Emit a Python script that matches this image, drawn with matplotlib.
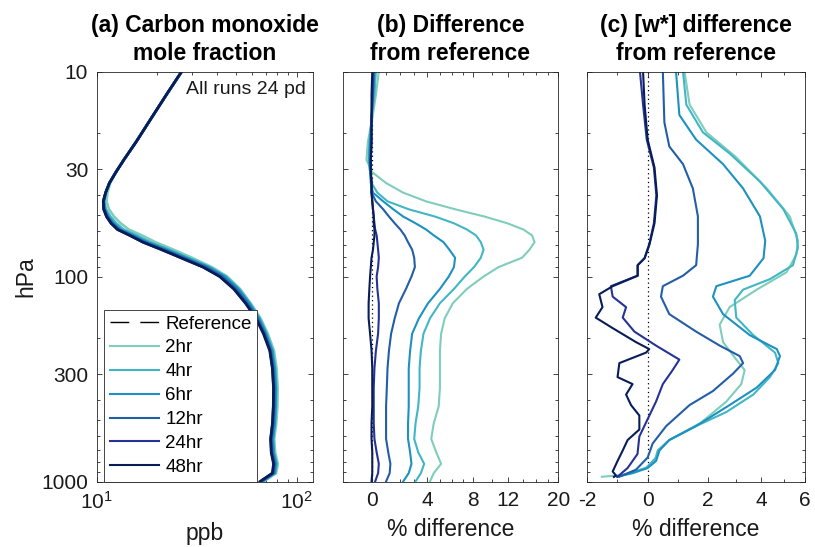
import numpy as np
import matplotlib
matplotlib.use('Agg')
import matplotlib.pyplot as plt
from matplotlib.ticker import FixedLocator, FixedFormatter, NullFormatter
from matplotlib.lines import Line2D

plt.rcParams['font.family'] = ['Liberation Sans', 'DejaVu Sans']
plt.rcParams['mathtext.fontset'] = 'custom'
plt.rcParams['mathtext.rm'] = 'Liberation Sans'
plt.rcParams['mathtext.it'] = 'Liberation Sans:italic'
plt.rcParams['mathtext.bf'] = 'Liberation Sans:bold'

# ---------------- data ----------------
RUNS = ['2hr', '4hr', '6hr', '12hr', '24hr', '48hr']
COLORS = ['#7fcdbb', '#41b6c4', '#1d91c0', '#225ea8', '#253494', '#081d58']

# shared pressure grid for panels (a) and (b), hPa
P_AB = [10, 13, 17, 22, 27, 31, 35, 39, 43, 47, 51, 55, 59, 63, 68, 74, 81, 90,
        100, 115, 135, 160, 190, 230, 280, 350, 430, 520, 620, 720, 820, 910, 1000]

# reference CO mole fraction (ppb)
CO_REF = [26.6, 22.3, 18.7, 15.8, 13.7, 12.5, 11.6, 11.1, 10.8, 10.85, 11.2, 11.8,
          12.7, 14.6, 17.0, 21.1, 26.3, 34.0, 41.2, 48.5, 55.5, 62.6, 68.2, 73.3,
          75.5, 76.5, 76.3, 75.6, 74.0, 74.5, 76.5, 75.5, 65.6]

# (b) % difference from reference
D_2HR = [0.5, 0.3, 0.05, -0.25, -0.35, 0.05, 1.0, 2.2, 3.9, 6.3, 9.2, 11.9, 14.1,
         15.4, 15.8, 15.0, 13.9, 10.8, 9.1, 7.4, 6.1, 5.4, 5.1, 5.0, 5.0, 5.0, 4.9,
         4.5, 4.3, 4.7, 5.1, 4.5, 4.2]
D_4HR = [0.3, 0.2, 0.0, -0.15, -0.2, -0.1, 0.0, 0.4, 1.1, 2.6, 4.6, 6.2, 7.4, 8.3,
         8.8, 9.1, 8.8, 8.1, 7.2, 6.2, 5.0, 4.2, 3.7, 3.5, 3.4, 3.4, 3.3, 3.1, 3.0,
         3.3, 3.75, 3.5, 3.1]
D_6HR = [0.2, 0.1, 0.0, -0.1, -0.15, -0.1, -0.05, 0.1, 0.8, 1.5, 2.2, 3.1, 3.9, 4.5,
         5.3, 5.8, 6.3, 6.2, 5.75, 5.0, 4.05, 3.35, 2.85, 2.7, 2.6, 2.6, 2.6, 2.55,
         2.55, 2.7, 2.8, 2.6, 2.2]
D_12HR = [0.15, 0.1, 0.0, -0.05, -0.1, -0.05, 0.0, 0.0, 0.3, 0.8, 1.2, 1.6, 2.0, 2.3,
          2.55, 2.85, 3.0, 3.05, 2.8, 2.4, 1.9, 1.6, 1.35, 1.2, 1.1, 1.05, 1.0, 1.0,
          1.0, 1.15, 1.3, 1.25, 1.0]
D_24HR = [0.1, 0.05, 0.0, 0.0, -0.05, -0.05, 0.0, 0.0, 0.05, 0.1, 0.15, 0.2, 0.25,
          0.35, 0.4, 0.45, 0.5, 0.45, 0.35, 0.4, 0.5, 0.5, 0.45, 0.3, 0.2, 0.15, 0.15,
          0.15, 0.2, 0.35, 0.5, 0.45, 0.25]
D_48HR = [0.05, 0.0, 0.0, 0.0, -0.05, -0.05, 0.0, 0.0, 0.05, 0.1, 0.15, 0.15, 0.2,
          0.2, 0.15, 0.1, 0.0, -0.05, -0.1, -0.15, -0.2, -0.2, -0.1, 0.0, 0.05, 0.05,
          0.05, 0.0, 0.0, 0.05, 0.05, 0.05, 0.0]

# (c) [w*] % difference from reference (each run on its own pressure levels)
PC_2HR = [10, 14.5, 19.8, 26.1, 37.2, 50.9, 66.9, 78.3, 95.3, 115.9, 141.1, 171.7,
          208.9, 254.3, 286, 334.8, 407.4, 515.7, 627.6, 706, 794.3, 859.2, 929.3, 948]
W_2HR = [1.2, 1.37, 1.94, 3.0, 4.24, 5.26, 5.65, 5.57, 5.11, 3.82, 2.77, 2.41, 2.53,
         3.02, 3.34, 3.21, 2.65, 1.76, 0.7, 0.33, 0.22, -0.05, -0.81, -1.5]
PC_4HR = [10, 14.5, 19.8, 25.1, 34.4, 46.9, 61.8, 72.4, 88.1, 103, 115.9, 130.4,
          158.7, 193.2, 235, 264.5, 309.5, 376.6, 458.3, 536.3, 627.6, 706, 763.7,
          859.2, 911.3, 947.7]
W_4HR = [1.15, 1.26, 1.82, 2.77, 3.95, 4.96, 5.57, 5.65, 5.41, 4.37, 3.28, 2.96, 3.02,
         3.68, 4.59, 4.74, 4.37, 3.68, 2.65, 1.59, 0.7, 0.33, 0.27, -0.05, -0.6, -1.0]
PC_6HR = [10, 16.3, 21.5, 28.3, 37.2, 50.9, 66.9, 81.4, 99.1, 111.5, 125.4, 152.6,
          193.2, 226, 244.5, 286, 348.2, 423.7, 536.3, 627.6, 706, 794.3, 859.2,
          911.3, 947.7]
W_6HR = [0.92, 1.03, 1.59, 2.53, 3.28, 3.95, 4.17, 4.10, 3.54, 2.29, 2.17, 2.53, 3.54,
         4.67, 4.81, 4.59, 3.82, 2.77, 1.59, 0.7, 0.38, 0.27, 0.0, -0.49, -1.0]
PC_12HR = [10, 17.7, 23.2, 28.3, 37.2, 50.9, 69.6, 88.1, 99.1, 111.5, 125.4, 152.6,
           185.7, 217.3, 244.5, 264.5, 297.5, 362, 423.7, 536.3, 652.7, 763.7, 876,
           947.7]
W_12HR = [0.49, 0.54, 0.7, 1.15, 1.48, 1.65, 1.65, 1.59, 1.15, 0.49, 0.43, 0.7, 1.59,
          2.41, 3.15, 3.28, 2.9, 2.17, 1.37, 0.6, 0.16, 0.0, -0.38, -0.92]
PC_24HR = [10, 14.5, 21.5, 29.4, 40.2, 55, 69.6, 81.4, 88.1, 99.1, 111.5, 125.4,
           141.1, 158.7, 185.7, 217.3, 254.3, 286, 334.8, 407.4, 495.8, 603.4, 734.3,
           859.2, 947.7]
W_24HR = [-0.25, -0.15, -0.03, 0.2, 0.28, 0.2, 0.05, -0.1, -0.33, -0.33, -1.2, -1.14,
          -0.7, -0.81, -0.43, 0.27, 1.03, 0.81, 0.49, 0.27, 0.0, -0.27, -0.33, -0.65,
          -0.98]
PC_48HR = [10, 14.5, 21.5, 29.4, 40.2, 55, 69.6, 81.4, 88.1, 99.1, 111.5, 122, 141.1,
           158.7, 178.6, 208.9, 226, 235, 264.5, 309.5, 334.8, 376.6, 423.7, 476.7,
           557.8, 627.6, 706, 794.3, 893.5, 935, 950]
W_48HR = [-0.15, -0.1, 0.0, 0.22, 0.3, 0.22, 0.06, -0.1, -0.32, -0.32, -1.14, -1.59,
          -1.48, -1.71, -1.14, -0.38, 0.05, -0.05, -0.92, -0.98, -0.49, -0.7, -0.54,
          -0.27, -0.27, -0.65, -0.81, -0.98, -1.14, -1.03, -1.1]

D_B = [D_2HR, D_4HR, D_6HR, D_12HR, D_24HR, D_48HR]
P_C = [PC_2HR, PC_4HR, PC_6HR, PC_12HR, PC_24HR, PC_48HR]
W_C = [W_2HR, W_4HR, W_6HR, W_12HR, W_24HR, W_48HR]

P_TICKS = [10, 30, 100, 300, 1000]
P_MINOR = [20, 40, 50, 60, 70, 80, 90, 200, 400, 500, 600, 700, 800, 900]

# ---------------- figure ----------------
W, H = 815, 547
fig = plt.figure(figsize=(W / 100, H / 100), dpi=100)
TOP, BOT = 71.5, 481.5


def ax_at(l, r):
    return fig.add_axes([l / W, 1 - BOT / H, (r - l) / W, (BOT - TOP) / H])


axa = ax_at(96.5, 313.3)
axb = ax_at(342.7, 558.3)
axc = ax_at(587.3, 805.0)

AX_COL = '#262626'
TICK_FS = 15
LAB_FS = 16.5
LW = 1.5

p = np.array(P_AB, dtype=float)
ref = np.array(CO_REF, dtype=float)

# (a)
axa.plot(ref, p, color='k', ls=(0, (13.5, 8)), lw=1.0, zorder=1)
for d, c in zip(D_B, COLORS):
    axa.plot(ref * (1 + np.array(d) / 100.0), p, color=c, lw=LW + 0.4)

# (b)
axb.plot(np.zeros_like(p), p, color='k', ls=(0, (1, 2.5)), lw=0.9, zorder=1)
for d, c in zip(D_B, COLORS):
    axb.plot(d, p, color=c, lw=LW)

# (c)
axc.plot(np.zeros_like(p), p, color='k', ls=(0, (1, 2.5)), lw=0.9, zorder=1)
for pc, w, c in zip(P_C, W_C, COLORS):
    axc.plot(w, pc, color=c, lw=LW)

# axes styling
for ax in (axa, axb, axc):
    ax.set_yscale('log')
    ax.set_ylim(1000, 10)
    ax.yaxis.set_major_locator(FixedLocator(P_TICKS))
    ax.yaxis.set_minor_locator(FixedLocator(P_MINOR))
    ax.yaxis.set_minor_formatter(NullFormatter())
    ax.tick_params(which='both', direction='in', top=True, right=True,
                   color=AX_COL, width=0.6, labelsize=TICK_FS, labelcolor='#1a1a1a')
    ax.tick_params(which='major', length=3.8)
    ax.tick_params(which='minor', length=2.3)
    ax.tick_params(axis='x', pad=7)
    ax.tick_params(axis='y', pad=6)
    for s in ax.spines.values():
        s.set_color(AX_COL)
        s.set_linewidth(0.6)

axa.yaxis.set_major_formatter(FixedFormatter([str(t) for t in P_TICKS]))
axb.yaxis.set_major_formatter(NullFormatter())
axc.yaxis.set_major_formatter(NullFormatter())

axa.set_xscale('log')
axa.set_xlim(10, 121)
axa.xaxis.set_major_locator(FixedLocator([10, 100]))
axa.xaxis.set_major_formatter(FixedFormatter([r'$10^{1}$', r'$10^{2}$']))
axa.xaxis.set_minor_locator(FixedLocator([20, 30, 40, 50, 60, 70, 80, 90]))
axa.xaxis.set_minor_formatter(NullFormatter())

axb.set_xscale('asinh', linear_width=7.5)
axb.set_xlim(-2, 20)
axb.xaxis.set_major_locator(FixedLocator([0, 4, 8, 12, 20]))
axb.xaxis.set_major_formatter(FixedFormatter(['0', '4', '8', '12', '20']))
axb.xaxis.set_minor_locator(FixedLocator([1, 2, 3, 5, 6, 7, 10, 14, 16, 18]))
axb.xaxis.set_minor_formatter(NullFormatter())

axc.set_xscale('asinh', linear_width=5)
axc.set_xlim(-2, 6)
axc.xaxis.set_major_locator(FixedLocator([-2, 0, 2, 4, 6]))
axc.xaxis.set_major_formatter(FixedFormatter(['-2', '0', '2', '4', '6']))
axc.xaxis.set_minor_locator(FixedLocator([-1, 1, 3, 5]))
axc.xaxis.set_minor_formatter(NullFormatter())

# titles and labels
TITLES = ['(a) Carbon monoxide\nmole fraction',
          '(b) Difference\nfrom reference',
          '(c) [w*] difference\nfrom reference']
for ax, t in zip((axa, axb, axc), TITLES):
    ax.set_title(t, fontsize=LAB_FS, fontweight='bold', linespacing=1.3, pad=8,
                 color='k')

axa.set_ylabel('hPa', fontsize=LAB_FS, color='#1a1a1a')
axa.yaxis.set_label_coords(-0.275, 0.5)
axa.set_xlabel('ppb', fontsize=LAB_FS, color='#1a1a1a')
axa.xaxis.label.set_verticalalignment('bottom')
axa.xaxis.set_label_coords(0.5, -0.155)
for ax in (axb, axc):
    ax.set_xlabel('% difference', fontsize=LAB_FS, color='#1a1a1a')
    ax.xaxis.set_label_coords(0.5, -0.088)

axa.text(0.966, 0.955, 'All runs 24 pd', transform=axa.transAxes, ha='right',
         va='center', fontsize=14, color='#1a1a1a')

handles = [Line2D([], [], color='k', ls=(0, (13.5, 8)), lw=1.0)]
handles += [Line2D([], [], color=c, lw=LW) for c in COLORS]
leg = axa.legend(handles, ['Reference'] + RUNS, loc='lower left',
                 bbox_to_anchor=(0.036, 0.0), borderaxespad=0, fontsize=13.5,
                 handlelength=2.6, handletextpad=0.35, labelspacing=0.36,
                 borderpad=0.3, frameon=True, fancybox=False, framealpha=1)
leg.get_frame().set_edgecolor(AX_COL)
leg.get_frame().set_linewidth(0.6)

fig.savefig('out.png', dpi=100, facecolor='white')
